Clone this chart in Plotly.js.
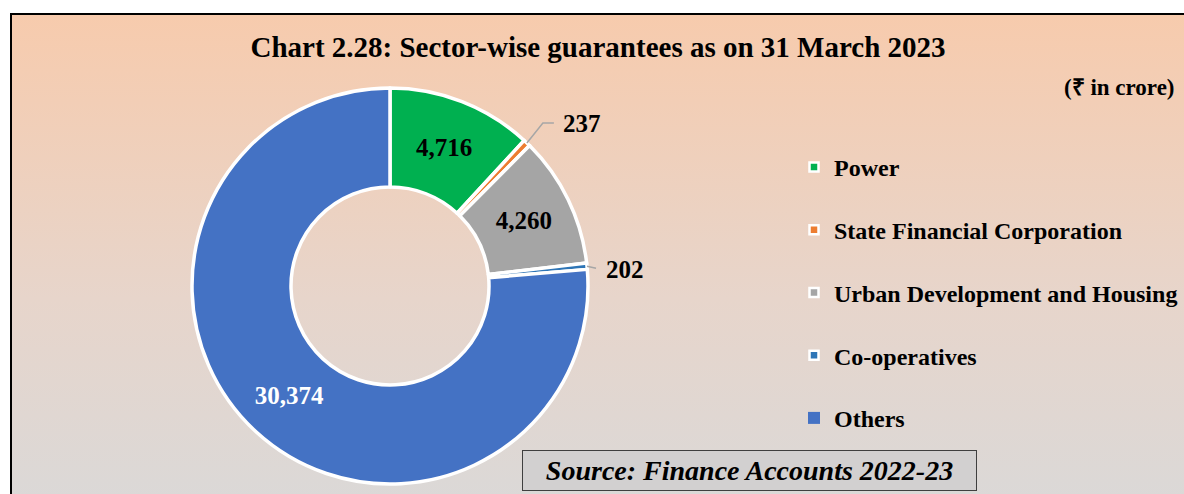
<!DOCTYPE html>
<html>
<head>
<meta charset="utf-8">
<script src="https://cdn.plot.ly/plotly-3.0.1.min.js"></script>
<style>
  html, body { margin: 0; padding: 0; background: #ffffff; overflow: hidden; }
  #frame {
    position: absolute; left: 10px; top: 13px; width: 1200px; height: 520px;
    border: 2px solid #000000; box-sizing: border-box;
    background: linear-gradient(to bottom, #F7CBAD 0%, #E7D5CB 55%, #D9D9D9 100%);
  }
  #chart { position: absolute; left: 0; top: 0; width: 1184px; height: 494px; }
</style>
</head>
<body>
<div id="frame"></div>
<div id="chart"></div>
<script>
// ---- data ----
const categories = ['Power', 'State Financial Corporation', 'Urban Development and Housing', 'Co-operatives', 'Others'];
const values = [4716, 237, 4260, 202, 30374];
const colors = ['#00B050', '#ED7D31', '#A5A5A5', '#2E75B6', '#4472C4'];
const textColors = ['#000000', '#000000', '#000000', '#000000', '#FFFFFF'];
const insideLabel = [true, false, true, false, true];
const titleText = 'Chart 2.28: Sector-wise guarantees as on 31 March 2023';
const unitText = '(₹ in crore)';
const sourceText = 'Source: Finance Accounts 2022-23';

// ---- layout geometry ----
const W = 1184, H = 494;
const cx = 390, cy = 286, R = 198;
const FONT = '"Liberation Serif", "Times New Roman", serif';
const fmt = new Intl.NumberFormat('en-US');
const px2x = x => x / W;
const px2y = y => 1 - y / H;

// leader line shapes for the small slices (offsets in px)
const leader = [null, {dx: 16, dy: -20, h: 11, gap: 7}, null, {dx: 9, dy: 2, h: 0, gap: 8}, null];

const total = values.reduce((a, b) => a + b, 0);
const shapes = [];
const annotations = [];
let cum = 0;
values.forEach((v, i) => {
  const mid = (cum + v / 2) / total * 2 * Math.PI;
  cum += v;
  if (insideLabel[i]) return;
  const L = leader[i];
  const px = cx + R * Math.sin(mid), py = cy - R * Math.cos(mid);
  const ex = px + L.dx, ey = py + L.dy;
  const fx = ex + L.h;
  shapes.push({
    type: 'path', xref: 'paper', yref: 'paper',
    path: `M ${px2x(px)} ${px2y(py)} L ${px2x(ex)} ${px2y(ey)} L ${px2x(fx)} ${px2y(ey)}`,
    line: {color: '#A6A6A6', width: 1.5}
  });
  annotations.push({
    xref: 'paper', yref: 'paper', x: px2x(fx + L.gap), y: px2y(ey + 1),
    xanchor: 'left', yanchor: 'middle', showarrow: false,
    text: fmt.format(v),
    font: {family: FONT, size: 25, color: '#000000', weight: 'bold'}
  });
});

annotations.push({
  xref: 'paper', yref: 'paper', x: px2x(1177), y: px2y(87),
  xanchor: 'right', yanchor: 'middle', showarrow: false,
  text: unitText, font: {family: FONT, size: 23, color: '#000000', weight: 'bold'}
});
annotations.push({
  xref: 'paper', yref: 'paper', x: px2x(749.5), y: px2y(470.5),
  xanchor: 'center', yanchor: 'middle', showarrow: false,
  text: '<i>' + sourceText + '</i>',
  width: 451, height: 37, borderpad: 1, borderwidth: 1,
  bordercolor: '#3F3F3F', bgcolor: '#D2D0D0',
  font: {family: FONT, size: 28, color: '#000000', weight: 'bold'}
});

const pie = {
  type: 'pie',
  labels: categories,
  values: values,
  sort: false,
  direction: 'clockwise',
  rotation: 0,
  hole: 0.5,
  marker: {colors: colors, line: {color: '#FFFFFF', width: 3.5}},
  texttemplate: values.map((v, i) => insideLabel[i] ? '%{value:,}' : ''),
  textposition: values.map((v, i) => insideLabel[i] ? 'inside' : 'none'),
  insidetextorientation: 'horizontal',
  textfont: {family: FONT, size: 25, color: textColors, weight: 'bold'},
  domain: {x: [px2x(cx - R), px2x(cx + R)], y: [px2y(cy + R), px2y(cy - R)]},
  showlegend: false,
  hoverinfo: 'none'
};

const legendTraces = categories.map((c, i) => ({
  type: 'scatter', mode: 'markers', x: [null], y: [null],
  name: c, legendgroup: c, showlegend: true, hoverinfo: 'none',
  marker: {symbol: 'square', color: colors[i], size: i === 4 ? 12 : 9,
           line: {color: '#FFFFFF', width: i === 4 ? 0 : 2.5}}
}));

const layout = {
  width: W, height: H,
  margin: {l: 0, r: 0, t: 0, b: 0},
  paper_bgcolor: 'rgba(0,0,0,0)',
  plot_bgcolor: 'rgba(0,0,0,0)',
  title: {
    text: titleText, x: px2x(598), xanchor: 'center',
    y: px2y(47), yanchor: 'middle', yref: 'container',
    font: {family: FONT, size: 29, color: '#000000', weight: 'bold'}
  },
  xaxis: {visible: false, domain: [0.98, 1]},
  yaxis: {visible: false, domain: [0.98, 1]},
  showlegend: true,
  legend: {
    x: px2x(794), xanchor: 'left', y: px2y(145), yanchor: 'top',
    bgcolor: 'rgba(0,0,0,0)', borderwidth: 0,
    traceorder: 'grouped', tracegroupgap: 28.5,
    font: {family: FONT, size: 24, color: '#000000', weight: 'bold'},
    itemclick: false, itemdoubleclick: false
  },
  shapes: shapes,
  annotations: annotations
};

Plotly.newPlot('chart', [pie, ...legendTraces], layout, {displayModeBar: false, staticPlot: true});
</script>
</body>
</html>
